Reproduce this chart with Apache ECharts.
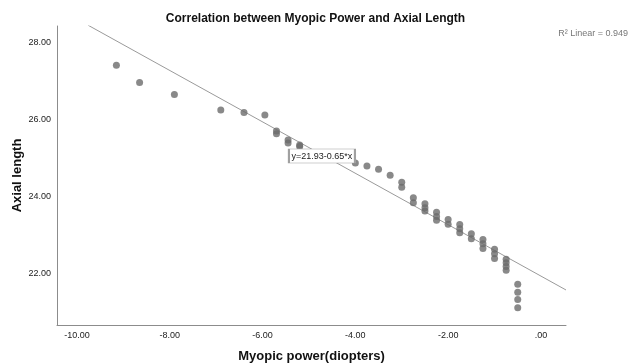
<!DOCTYPE html>
<html>
<head>
<meta charset="utf-8">
<script src="https://cdn.jsdelivr.net/npm/echarts@6/dist/echarts.min.js"></script>
<style>
  html, body { margin: 0; padding: 0; background: #fff; }
  #chart { width: 631px; height: 364px; }
</style>
</head>
<body>
<div id="chart"></div>
<script>
// myopic power (diopters) and axial length
const power = [
  -9.15, -8.65, -7.9, -6.9, -6.4, -5.95,
  -5.7, -5.7, -5.45, -5.45, -5.2, -5.2,
  -4.0, -3.75, -3.5, -3.25, -3.0, -3.0,
  -2.75, -2.75, -2.5, -2.5, -2.5, -2.25, -2.25, -2.25,
  -2.0, -2.0, -1.75, -1.75, -1.75, -1.5, -1.5,
  -1.25, -1.25, -1.25, -1.0, -1.0, -1.0,
  -0.75, -0.75, -0.75, -0.75, -0.5, -0.5, -0.5, -0.5
];
const axialLength = [
  27.40, 26.95, 26.64, 26.24, 26.17, 26.11,
  25.69, 25.62, 25.46, 25.38, 25.33, 25.29,
  24.86, 24.78, 24.70, 24.54, 24.36, 24.23,
  23.96, 23.83, 23.80, 23.70, 23.61, 23.58, 23.47, 23.37,
  23.39, 23.27, 23.26, 23.15, 23.05, 23.02, 22.89,
  22.87, 22.76, 22.64, 22.62, 22.50, 22.38,
  22.36, 22.27, 22.17, 22.07, 21.71, 21.50, 21.31, 21.10
];
// fit line ends as drawn in the picture
const fitX = [-9.76, 0.54];
const fitY = [28.44, 21.56];
const fitText = 'y=21.93-0.65*x';
const fitLabelAt = [-4.72, 25.04];
const r2Text = 'R² Linear = 0.949';
const xTicks = [-10, -8, -6, -4, -2, 0];
const yTicks = [22, 24, 26, 28];

const fmt = v => (v === 0 ? '.00' : v.toFixed(2));
const font = 'Liberation Sans';

const chart = echarts.init(document.getElementById('chart'));
chart.setOption({
  animation: false,
  textStyle: { fontFamily: font },
  title: {
    text: 'Correlation between Myopic Power and Axial Length',
    left: 'center',
    top: 8,
    textStyle: { fontSize: 12, fontWeight: 'bold', color: '#111', fontFamily: font }
  },
  graphic: [{
    type: 'text',
    right: 3,
    top: 29,
    style: { text: r2Text, fontSize: 9, fill: '#777', fontFamily: font }
  }],
  grid: { left: 57, top: 26, right: 65, bottom: 39, outerBoundsMode: 'none' },
  xAxis: {
    type: 'value',
    min: -10.43,
    max: 0.54,
    name: 'Myopic power(diopters)',
    nameLocation: 'middle',
    nameGap: 25,
    nameMoveOverlap: false,
    nameTextStyle: { fontSize: 13, fontWeight: 'bold', color: '#111' },
    axisLine: { show: true, onZero: false, lineStyle: { color: '#8c8c8c' } },
    axisTick: { show: false },
    splitLine: { show: false },
    axisLabel: { customValues: xTicks, formatter: fmt, fontSize: 9, color: '#222', margin: 6 }
  },
  yAxis: {
    type: 'value',
    min: 20.65,
    max: 28.42,
    name: 'Axial length',
    nameLocation: 'middle',
    nameGap: 33,
    nameMoveOverlap: false,
    nameTextStyle: { fontSize: 13, fontWeight: 'bold', color: '#111' },
    axisLine: { show: true, onZero: false, lineStyle: { color: '#8c8c8c' } },
    axisTick: { show: false },
    splitLine: { show: false },
    axisLabel: { customValues: yTicks, formatter: fmt, fontSize: 9, color: '#222', margin: 6 }
  },
  series: [
    {
      type: 'line',
      data: fitX.map((x, i) => [x, fitY[i]]),
      symbol: 'none',
      lineStyle: { color: '#9a9a9a', width: 1 },
      z: 2,
      markPoint: {
        silent: true,
        symbol: 'rect',
        symbolSize: [66, 14],
        itemStyle: { color: '#fff', borderColor: '#a0a0a0', borderWidth: 1 },
        label: { show: true, position: 'inside', formatter: fitText, fontSize: 9, color: '#222', fontFamily: font },
        data: [{ coord: fitLabelAt }]
      }
    },
    {
      type: 'scatter',
      data: power.map((x, i) => [x, axialLength[i]]),
      symbol: 'circle',
      symbolSize: 7,
      itemStyle: { color: '#6b6b6b' },
      z: 3
    }
  ]
});
</script>
</body>
</html>
